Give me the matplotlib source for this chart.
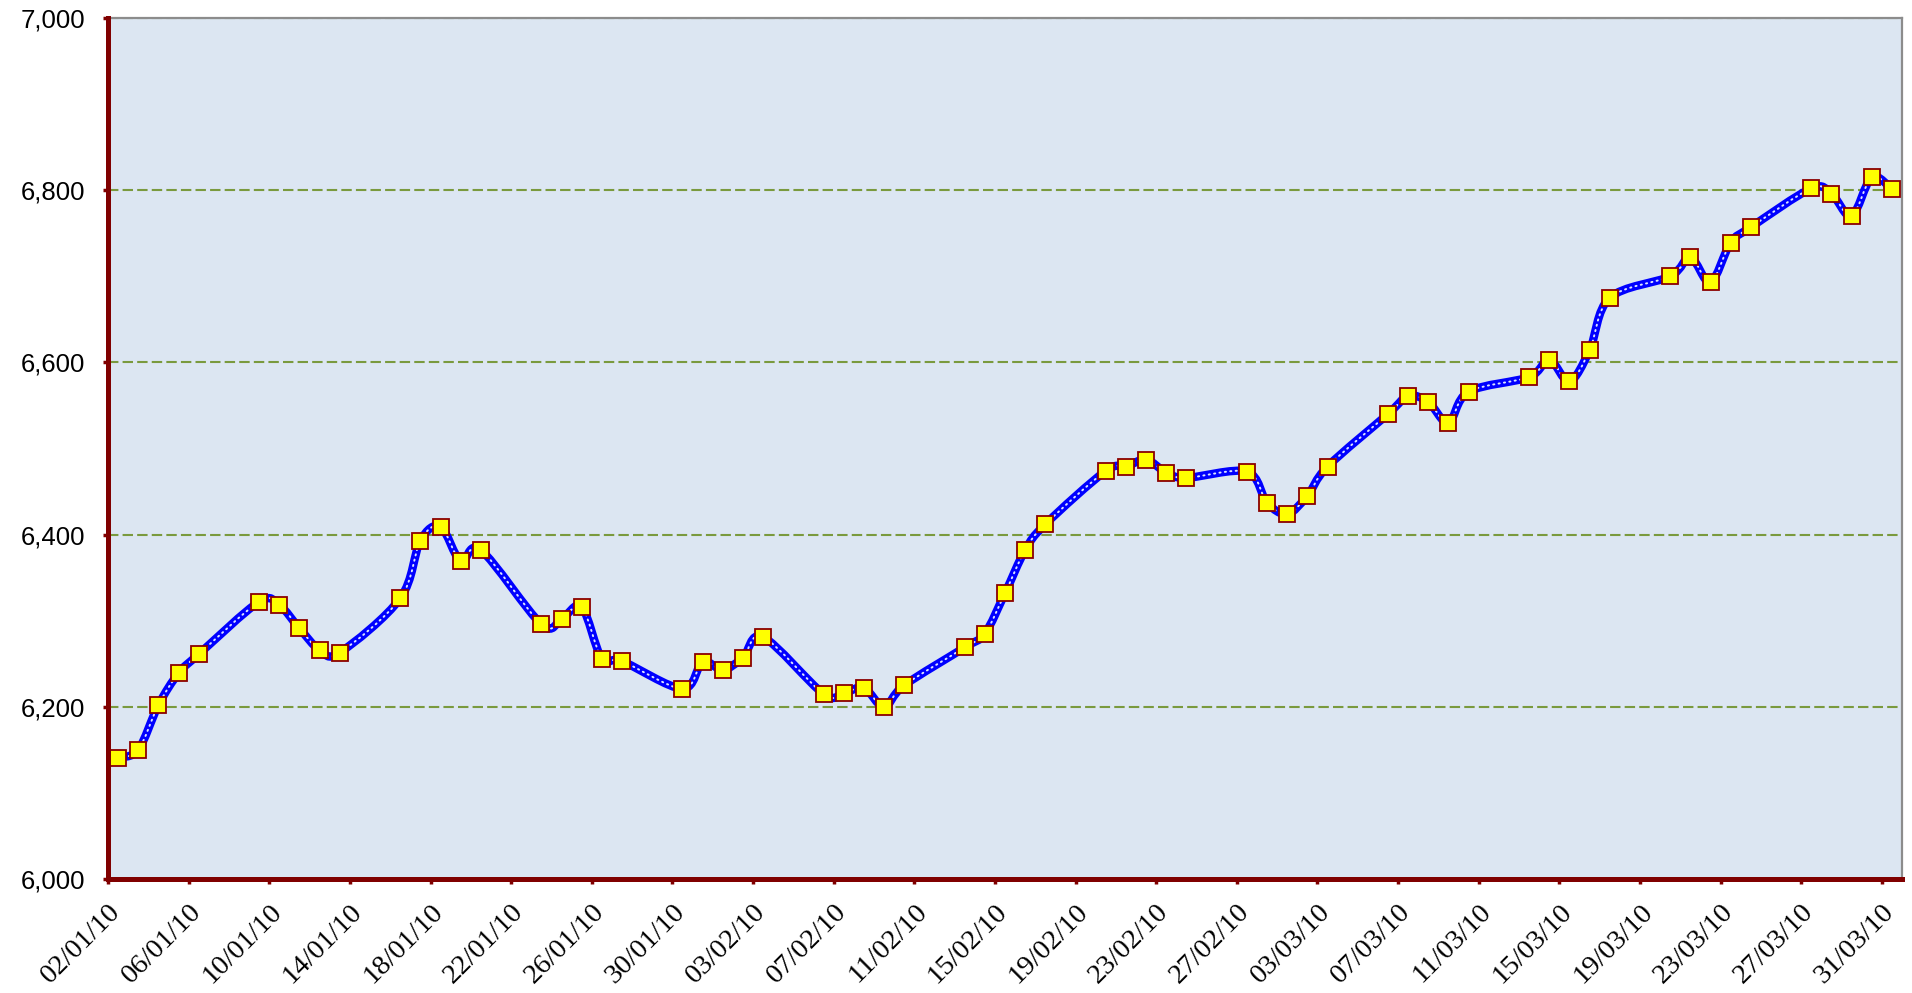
import matplotlib
matplotlib.use("Agg")
import matplotlib.pyplot as plt
import matplotlib.dates as mdates
from matplotlib.path import Path
from matplotlib.patches import PathPatch
from matplotlib.ticker import FuncFormatter, MultipleLocator
import numpy as np

# ---- data ----
dates = [
    "2010-01-02", "2010-01-03", "2010-01-04", "2010-01-05", "2010-01-06",
    "2010-01-09", "2010-01-10", "2010-01-11", "2010-01-12", "2010-01-13",
    "2010-01-16", "2010-01-17", "2010-01-18", "2010-01-19", "2010-01-20",
    "2010-01-23", "2010-01-24", "2010-01-25", "2010-01-26", "2010-01-27",
    "2010-01-30", "2010-01-31", "2010-02-01", "2010-02-02", "2010-02-03",
    "2010-02-06", "2010-02-07", "2010-02-08", "2010-02-09", "2010-02-10",
    "2010-02-13", "2010-02-14", "2010-02-15", "2010-02-16", "2010-02-17",
    "2010-02-20", "2010-02-21", "2010-02-22", "2010-02-23", "2010-02-24",
    "2010-02-27", "2010-02-28", "2010-03-01", "2010-03-02", "2010-03-03",
    "2010-03-06", "2010-03-07", "2010-03-08", "2010-03-09", "2010-03-10",
    "2010-03-13", "2010-03-14", "2010-03-15", "2010-03-16", "2010-03-17",
    "2010-03-20", "2010-03-21", "2010-03-22", "2010-03-23", "2010-03-24",
    "2010-03-27", "2010-03-28", "2010-03-29", "2010-03-30", "2010-03-31",
]
values = [
    6141, 6150, 6202, 6239, 6261,
    6322, 6318, 6291, 6266, 6263,
    6326, 6393, 6409, 6369, 6382,
    6296, 6302, 6316, 6256, 6253,
    6221, 6252, 6243, 6257, 6281,
    6215, 6216, 6222, 6200, 6225,
    6269, 6285, 6332, 6382, 6412,
    6474, 6479, 6487, 6472, 6466,
    6473, 6437, 6424, 6445, 6479,
    6540, 6561, 6554, 6530, 6566,
    6583, 6603, 6578, 6614, 6675,
    6700, 6722, 6693, 6739, 6757,
    6802, 6796, 6770, 6815, 6801,
]
x_start = "2010-01-02"
x_end = "2010-04-01"
y_min, y_max, y_step = 6000, 7000, 200
tick_every_days = 4

# ---- figure ----
fig = plt.figure(figsize=(19.12, 9.93), dpi=100)
ax = fig.add_axes([108 / 1912, 114 / 993, (1902 - 108) / 1912, (879 - 18) / 993])
ax.set_facecolor("#DCE6F2")

x = mdates.datestr2num(dates) + 0.5
y = np.array(values, dtype=float)

# smoothed (Excel-like) curve through the points
P = np.column_stack([x, y])
n = len(P)
verts = [P[0]]
codes = [Path.MOVETO]
for i in range(n - 1):
    p0 = P[i - 1] if i > 0 else P[i]
    p3 = P[i + 2] if i + 2 < n else P[i + 1]
    c1 = P[i] + (P[i + 1] - p0) / 6.0
    c2 = P[i + 1] - (p3 - P[i]) / 6.0
    verts += [c1, c2, P[i + 1]]
    codes += [Path.CURVE4] * 3
path = Path(verts, codes)

ax.add_patch(PathPatch(path, fill=False, edgecolor="#0000FF", lw=6.0,
                       capstyle="round", joinstyle="round", zorder=3))
ax.add_patch(PathPatch(path, fill=False, edgecolor="#DDE6FF", lw=1.4,
                       linestyle=(0, (0.6, 2.2)), capstyle="round", zorder=4))
ax.plot(x, y, linestyle="none", marker="s", ms=11.0, mfc="#FFFF00",
        mec="#8B0000", mew=1.3, zorder=5)

# axes limits / ticks
x0 = mdates.datestr2num(x_start)
x1 = mdates.datestr2num(x_end)
ax.set_xlim(x0, x1)
ax.set_ylim(y_min, y_max)
ax.set_xticks(np.arange(x0, x1, tick_every_days))
ax.xaxis.set_major_formatter(mdates.DateFormatter("%d/%m/%y"))
ax.yaxis.set_major_locator(MultipleLocator(y_step))
ax.yaxis.set_major_formatter(FuncFormatter(lambda v, p: f"{int(v):,}"))

ax.grid(axis="y", color="#7A9A3E", linestyle=(0, (5, 2)), lw=1.5, zorder=1)
ax.grid(axis="x", visible=False)
ax.set_axisbelow(True)

for s in ["left", "bottom"]:
    ax.spines[s].set_color("#800000")
    ax.spines[s].set_linewidth(3.6)
    ax.spines[s].set_zorder(6)
for s in ["top", "right"]:
    ax.spines[s].set_color("#8C8C8C")
    ax.spines[s].set_linewidth(1.6)

ax.tick_params(axis="both", direction="out", color="#800000", length=3.5, width=2.5)
ax.tick_params(axis="y", pad=13, labelsize=18.5)
ax.tick_params(axis="x", pad=11, labelsize=20.5)

for lab in ax.get_yticklabels():
    lab.set_fontfamily("Liberation Sans")
for lab in ax.get_xticklabels():
    lab.set_fontfamily("Liberation Serif")
    lab.set_rotation(45)
    lab.set_ha("right")
    lab.set_va("top")
    lab.set_rotation_mode("anchor")

fig.savefig("out.png", dpi=100, facecolor="white")
